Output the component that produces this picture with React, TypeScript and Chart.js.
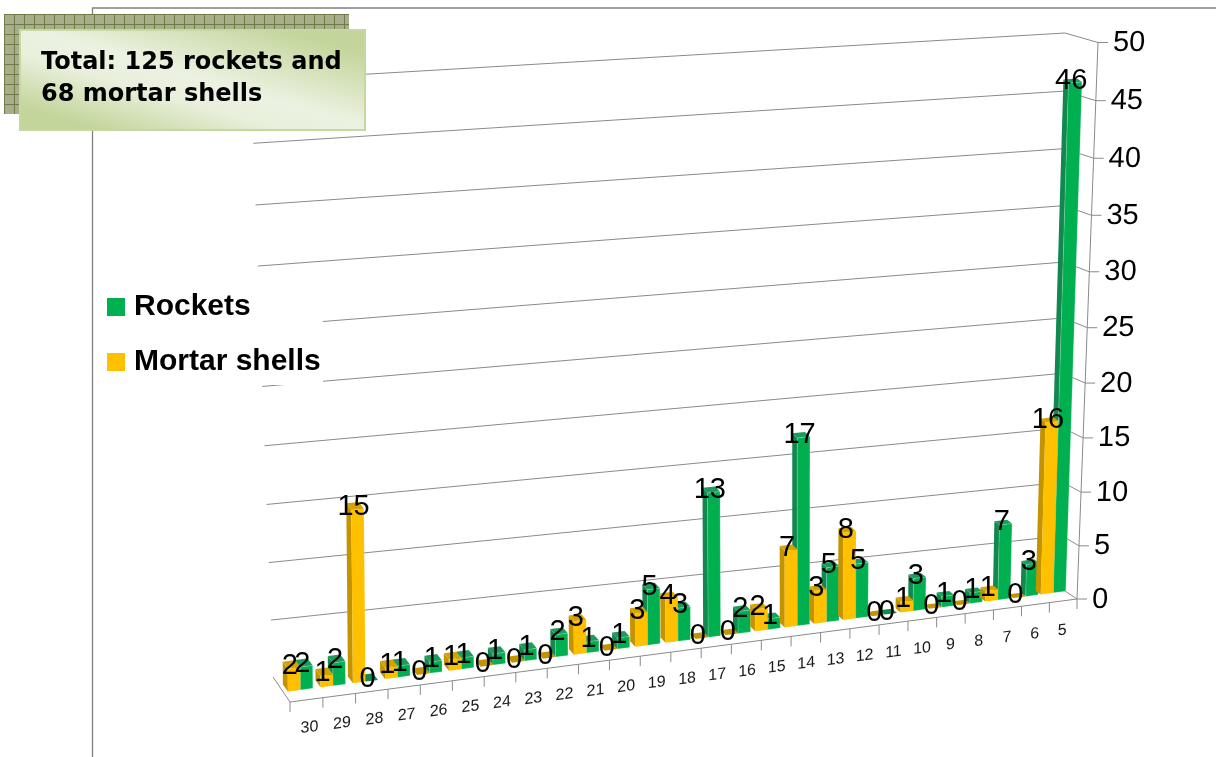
import React, { useEffect, useRef } from "react";
import { Chart, registerables, BarElement, CategoryScale, LinearScale } from "chart.js";

const categories = ["30","29","28","27","26","25","24","23","22","21","20","19","18","17","16","15","14","13","12","11","10","9","8","7","6","5"];
const mortarShells = [2,1,15,1,0,1,0,0,0,3,0,3,4,0,0,2,7,3,8,0,1,0,0,1,0,16];
const rockets = [2,2,0,1,1,1,1,1,2,1,1,5,3,13,2,1,17,5,5,0,3,1,1,7,3,46];
const calloutLines = ["Total: 125 rockets and", "68 mortar shells"];

const GREEN = "#00b050";
const GOLD = "#ffc000";
const SIDE: Record<string, string> = { [GREEN]: "#11884f", [GOLD]: "#c49400" };
const TOP: Record<string, string> = { [GREEN]: "#1d9a5e", [GOLD]: "#d6a200" };
const GRID = "#8a8a8a";
const Y0 = 599;
const Y50 = 42.5;
const X_LEFT = 284;
const X_RIGHT = 1067;
const FLOOR_SLOPE = 0.129;
const WARP_X = 0.09;
const WARP_Y = -0.05;

// flat chart coordinates -> the picture's slanted perspective
function project(x: number, y: number): [number, number] {
  const v = Y0 - y;
  const base = 593 + FLOOR_SLOPE * (1052 - x);
  const s = 1 + ((1052 - x) / 752) * 0.08;
  const t = Math.max(0, (x - 350) / 705);
  const h = -0.01 + 0.04 * t * t * t;
  return [x + h * v, base - v * s];
}

function poly(ctx: CanvasRenderingContext2D, pts: [number, number][], fill: string) {
  ctx.beginPath();
  pts.forEach((p, i) => (i ? ctx.lineTo(p[0], p[1]) : ctx.moveTo(p[0], p[1])));
  ctx.closePath();
  ctx.fillStyle = fill;
  ctx.fill();
}

(BarElement.prototype as any).draw = function (ctx: CanvasRenderingContext2D) {
  const { x, y, base, width } = this as any;
  const color = (this as any).options.backgroundColor as string;
  const l = x - width / 2;
  const r = x + width / 2;
  const t = Math.min(1, Math.max(0, (x - 300) / 750));
  const dx = -5;
  const dy = -(7 - 3.5 * t);
  const bl = project(l, base);
  const br = project(r, base);
  const tl = project(l, y);
  const tr = project(r, y);
  const sh = (p: [number, number]): [number, number] => [p[0] + dx, p[1] + dy];
  ctx.save();
  poly(ctx, [bl, tl, sh(tl), sh(bl)], SIDE[color]);
  poly(ctx, [tl, tr, sh(tr), sh(tl)], y === base ? SIDE[color] : TOP[color]);
  poly(ctx, [bl, br, tr, tl], color);
  if (color === GREEN && y !== base) {
    ctx.strokeStyle = "rgba(255,255,255,0.22)";
    ctx.lineWidth = 1;
    ctx.stroke();
  }
  ctx.restore();
};

class SkewCategory extends CategoryScale {
  static id = "skewCategory";
  static defaults = CategoryScale.defaults;
  getPixelForDecimal(d: number) {
    return super.getPixelForDecimal(d + WARP_X * d * (1 - d));
  }
  draw(area: any) {
    const ctx = this.ctx;
    ctx.save();
    ctx.transform(1, -FLOOR_SLOPE, 0, 1, 9, FLOOR_SLOPE * 1052);
    super.draw(area);
    ctx.restore();
  }
}

class SkewLinear extends LinearScale {
  static id = "skewLinear";
  static defaults = LinearScale.defaults;
  getPixelForDecimal(d: number) {
    return super.getPixelForDecimal(d + WARP_Y * d * (1 - d));
  }
  draw(area: any) {
    const ctx = this.ctx;
    const hx = -0.0377;
    ctx.save();
    ctx.transform(1, 0, hx, 1, -hx * Y0, 0.5);
    super.draw(area);
    ctx.restore();
  }
}

Chart.register(...registerables, SkewCategory as any, SkewLinear as any);

function legendSwatch(color: string) {
  const c = document.createElement("canvas");
  c.width = 18;
  c.height = 18;
  const g = c.getContext("2d")!;
  g.fillStyle = color;
  g.fillRect(0, 0, 18, 18);
  return c;
}

const wallPlugin = {
  id: "wall",
  beforeDraw(chart: any) {
    const ctx: CanvasRenderingContext2D = chart.ctx;
    const ys = chart.scales.y;
    const xs = chart.scales.x;
    ctx.save();
    ctx.strokeStyle = "#808080";
    ctx.lineWidth = 1.3;
    ctx.beginPath();
    ctx.moveTo(92.5, 757);
    ctx.lineTo(92.5, 8);
    ctx.lineTo(1216, 8);
    ctx.stroke();
    ctx.strokeStyle = GRID;
    ctx.lineWidth = 1;
    ctx.beginPath();
    ys.ticks.forEach((tk: any) => {
      const py = ys.getPixelForValue(tk.value);
      const u = (Y0 - py) / (Y0 - Y50);
      const sx = 1077 + 21 * u;
      if (tk.value !== 0) {
        ctx.moveTo(273 - 22 * u, 677 - 596 * u);
        ctx.lineTo(1062 + 3 * u, 589 - 556 * u);
      }
      ctx.moveTo(1062 + 3 * u, 589 - 556 * u);
      ctx.lineTo(sx, py);
      ctx.lineTo(sx + 10, py);
    });
    ctx.moveTo(1098, Y50);
    ctx.lineTo(1077, Y0);
    ctx.lineTo(1077, 609);
    // floor edges
    ctx.moveTo(273, 677);
    ctx.lineTo(290, 702);
    ctx.lineTo(1077, Y0);
    const n = categories.length;
    for (let i = 0; i < n; i++) {
      const fx = xs.getPixelForDecimal(i / n);
      const px = 290 + (fx - X_LEFT) * (787 / (X_RIGHT - X_LEFT));
      const py = 702 - ((px - 290) * 103) / 787;
      ctx.moveTo(px, py);
      ctx.lineTo(px, py + 10);
    }
    ctx.stroke();
    // the legend's white background
    ctx.fillStyle = "#ffffff";
    ctx.fillRect(100, 285, 223, 100);
    ctx.restore();
  },
  afterLayout(chart: any) {
    const lg = chart.legend;
    lg.left = 88;
    lg.right = 88 + lg.width;
    lg.top = 267;
    lg.bottom = 267 + lg.height;
  },
};

const valueLabelPlugin = {
  id: "valueLabels",
  afterDatasetsDraw(chart: any) {
    const ctx: CanvasRenderingContext2D = chart.ctx;
    ctx.save();
    ctx.font = "29px 'Liberation Sans'";
    ctx.fillStyle = "#000000";
    ctx.textAlign = "center";
    ctx.textBaseline = "middle";
    [1, 0].forEach((di) => {
      const meta = chart.getDatasetMeta(di);
      meta.data.forEach((bar: any, i: number) => {
        const [px, py] = project(bar.x, bar.y);
        ctx.fillText(String(chart.data.datasets[di].data[i]), px - 4, py - 2);
      });
    });
    ctx.restore();
  },
};

const calloutPlugin = {
  id: "callout",
  afterDraw(chart: any) {
    const ctx: CanvasRenderingContext2D = chart.ctx;
    const tile = document.createElement("canvas");
    tile.width = 10;
    tile.height = 10;
    const t = tile.getContext("2d")!;
    t.fillStyle = "#a8ad8c";
    t.fillRect(0, 0, 10, 10);
    t.fillStyle = "#6f7a45";
    t.fillRect(0, 0, 10, 1);
    t.fillRect(0, 0, 1, 10);
    ctx.save();
    ctx.translate(4, 14);
    ctx.fillStyle = ctx.createPattern(tile, "repeat")!;
    ctx.fillRect(0, 0, 345, 100);
    ctx.restore();
    ctx.save();
    const g = ctx.createLinearGradient(219, -13, 165, 173);
    g.addColorStop(0.12, "#c3d59b");
    g.addColorStop(0.48, "#ecf2e2");
    g.addColorStop(0.62, "#e8efdb");
    g.addColorStop(0.88, "#c3d59b");
    ctx.fillStyle = g;
    ctx.fillRect(19, 29, 347, 102);
    ctx.strokeStyle = "#c5d8a0";
    ctx.lineWidth = 2;
    ctx.strokeRect(20, 30, 345, 100);
    ctx.fillStyle = "#000000";
    ctx.font = "bold 24px 'DejaVu Sans'";
    ctx.textBaseline = "alphabetic";
    ctx.textAlign = "left";
    ctx.fillText(calloutLines[0], 41, 69);
    ctx.fillText(calloutLines[1], 41, 101);
    ctx.restore();
  },
};

export default function App() {
  const ref = useRef<HTMLCanvasElement | null>(null);
  useEffect(() => {
    const chart = new Chart(ref.current!, {
      type: "bar",
      data: {
        labels: categories,
        datasets: [
          { label: "Mortar shells", data: mortarShells, backgroundColor: GOLD, clip: false, barThickness: 12.5 } as any,
          { label: "Rockets", data: rockets, backgroundColor: GREEN, clip: false, barThickness: 12.5 } as any,
        ],
      },
      options: {
        responsive: false,
        animation: false,
        events: [],
        layout: { padding: { left: X_LEFT, right: 1216 - X_RIGHT - 100, top: Y50, bottom: 757 - Y0 - 100 } },
        scales: {
          x: {
            type: "skewCategory",
            offset: true,
            grid: { display: false },
            border: { display: false },
            afterFit: (s: any) => { s.height = 100; },
            ticks: { autoSkip: false, maxRotation: 0, minRotation: 0, padding: 14, color: "#1a1a1a", font: { family: "'Liberation Sans'", size: 16 } },
          },
          y: {
            type: "skewLinear",
            position: "right",
            min: 0,
            max: 50,
            grid: { display: false },
            border: { display: false },
            afterFit: (s: any) => { s.width = 100; },
            ticks: { stepSize: 5, padding: 17, color: "#000000", font: { family: "'Liberation Sans'", size: 29 } },
          },
        } as any,
        plugins: {
          title: { display: false },
          tooltip: { enabled: false },
          legend: {
            position: "chartArea" as any,
            align: "start",
            reverse: true,
            labels: {
              usePointStyle: true,
              pointStyleWidth: 6,
              boxHeight: 18,
              padding: 25,
              color: "#000000",
              font: { family: "'Liberation Sans'", size: 30, weight: "bold" },
              generateLabels: (c: any) =>
                Chart.defaults.plugins.legend.labels.generateLabels(c).map((item: any) => ({
                  ...item,
                  pointStyle: legendSwatch(item.fillStyle),
                })),
            },
          },
        },
      },
      plugins: [wallPlugin, valueLabelPlugin, calloutPlugin],
    } as any);
    return () => chart.destroy();
  }, []);
  return (
    <canvas
      ref={ref}
      width={1216}
      height={757}
      style={{ position: "absolute", left: 0, top: 0, display: "block", width: 1216, height: 757 }}
    />
  );
}
